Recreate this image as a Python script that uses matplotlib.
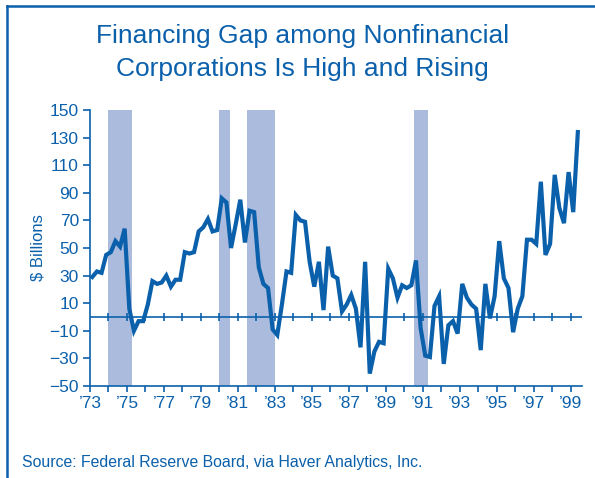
import numpy as np
import matplotlib.pyplot as plt
from matplotlib.lines import Line2D

# --- VERİ (çeyreklik, 1973Q1'den başlıyor) ---
gap_values = [
    29, 33, 32, 45,        # 1973
    47, 55, 51, 64,        # 1974
    6, -10, -3, -3,        # 1975
    9, 26, 24, 25,         # 1976
    30, 22, 27, 27,        # 1977
    47, 46, 47, 62,        # 1978
    65, 71, 62, 63,        # 1979
    86, 83, 50, 67,        # 1980
    85, 54, 77, 76,        # 1981
    36, 24, 21, -9,        # 1982
    -13, 9, 33, 32,        # 1983
    74, 70, 69, 40,        # 1984
    22, 40, 5, 51,         # 1985
    30, 28, 4, 9,          # 1986
    16, 6, -22, 40,        # 1987
    -41, -25, -18, -19,    # 1988
    35, 28, 14, 23,        # 1989
    21, 23, 41, -8,        # 1990
    -28, -29, 8, 15,       # 1991
    -34, -6, -3, -12,      # 1992
    24, 14, 9, 6,          # 1993
    -24, 24, -1, 15,       # 1994
    55, 28, 21, -11,       # 1995
    6, 15, 56, 56,         # 1996
    53, 98, 45, 53,        # 1997
    103, 79, 68, 105,      # 1998
    76, 134,               # 1999
]
START_YEAR = 1973

# Resesyon dönemleri (başlangıç, bitiş)
recession_start = [1974.0, 1980.0, 1981.5, 1990.5]
recession_end = [1975.25, 1980.55, 1983.0, 1991.3]

y_ticks = list(range(-50, 151, 20))
label_years = list(range(1973, 2000, 2))

BLUE = '#0b60ab'
BAND = '#abbbde'

plt.rcParams['font.family'] = ['Liberation Sans', 'DejaVu Sans']

fig = plt.figure(figsize=(5.95, 4.78), dpi=100)
ax = fig.add_axes([90 / 595, 1 - 386 / 478, 492 / 595, 276 / 478])

# Çeyrek ortalarına yerleştir
x = START_YEAR + (np.arange(len(gap_values)) + 0.5) / 4

for s, e in zip(recession_start, recession_end):
    ax.axvspan(s, e, color=BAND, lw=0, zorder=0)

ax.axhline(0, color=BLUE, lw=1.2, zorder=1)
minor_years = np.arange(START_YEAR + 1, 2000)
ax.plot(minor_years, np.zeros(len(minor_years)), ls='none', marker='|',
        ms=6, mew=1.2, color=BLUE, zorder=1)

ax.plot(x, gap_values, color=BLUE, lw=3.0, solid_joinstyle='miter', zorder=3)

ax.set_xlim(START_YEAR, 1999.6)
ax.set_ylim(-50, 150)

ax.set_yticks(y_ticks)
ax.set_xticks(label_years)
ax.set_xticklabels(["\u2019" + str(yr)[2:] for yr in label_years])
ax.set_xticks(np.arange(START_YEAR, 2000), minor=True)

for side in ['top', 'right']:
    ax.spines[side].set_visible(False)
for side in ['left', 'bottom']:
    ax.spines[side].set_color(BLUE)
    ax.spines[side].set_linewidth(1.2)

ax.tick_params(axis='both', which='both', colors=BLUE, labelcolor=BLUE,
               direction='out', width=1.2)
ax.tick_params(axis='y', length=5, pad=3, labelsize=12.5)
ax.tick_params(axis='x', which='both', length=4.5, pad=3, labelsize=12.5)

ax.set_ylabel('$ Billions', color=BLUE, fontsize=12, labelpad=3)

# Başlık (iki satır)
fig.text(0.508, 1 - 43 / 478, 'Financing Gap among Nonfinancial',
         ha='center', va='baseline', color=BLUE, fontsize=19)
fig.text(0.508, 1 - 76 / 478, 'Corporations Is High and Rising',
         ha='center', va='baseline', color=BLUE, fontsize=19)

fig.text(22 / 595, 1 - 467 / 478,
         'Source: Federal Reserve Board, via Haver Analytics, Inc.',
         ha='left', va='baseline', color=BLUE, fontsize=11.4)

# Çerçeve (sol ve üst kenar)
fig.add_artist(Line2D([7 / 595, 7 / 595], [0, 1 - 6 / 478],
                      transform=fig.transFigure, color=BLUE, lw=1.8))
fig.add_artist(Line2D([7 / 595, 1], [1 - 6 / 478, 1 - 6 / 478],
                      transform=fig.transFigure, color=BLUE, lw=1.8))

fig.savefig('out.png', dpi=100)
